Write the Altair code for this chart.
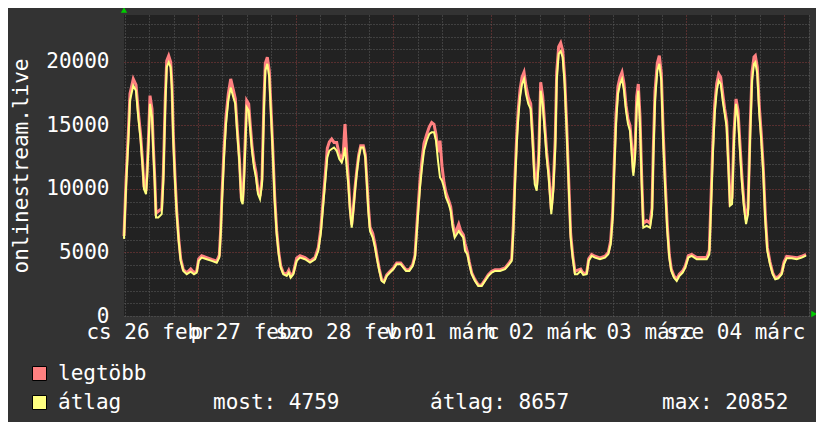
import json
import altair as alt
import pandas as pd

# hours since 2015-02-26 00:00
hours = [
    5.82, 6.31, 6.88, 7.29, 8.10, 8.77, 9.33, 9.92, 10.41, 10.73, 11.23, 11.54, 11.89, 12.21, 12.70,
    13.02, 13.36, 13.68, 14.25, 15.08, 15.48, 15.97, 16.31, 16.80, 17.29, 17.61, 17.93, 18.35, 18.77,
    19.26, 19.75, 20.39, 21.23, 22.21, 23.02, 23.68, 24.17, 24.91, 26.14, 27.37, 28.60, 29.24, 29.58,
    29.90, 30.39, 30.88, 31.45, 32.04, 32.68, 33.17, 33.66, 34.15, 34.64, 34.98, 35.30, 35.62, 35.97,
    36.46, 36.78, 37.27, 37.76, 38.25, 38.74, 39.24, 39.73, 40.22, 40.54, 41.03, 41.52, 41.86, 42.35,
    42.85, 43.34, 43.83, 44.32, 44.96, 45.80, 46.29, 46.78, 47.42, 48.25, 49.06, 50.29, 51.52, 52.75,
    53.56, 54.15, 54.64, 55.21, 55.77, 56.27, 56.85, 57.42, 58.08, 58.72, 59.31, 59.70, 60.12, 60.54,
    60.93, 61.35, 61.77, 62.16, 62.58, 62.99, 63.49, 63.98, 64.62, 65.11, 65.45, 65.85, 66.26, 66.93,
    67.49, 68.06, 68.55, 69.14, 69.70, 70.37, 71.18, 71.99, 72.82, 73.80, 74.45, 75.11, 75.92, 76.75,
    77.32, 77.73, 78.13, 78.55, 79.04, 79.53, 80.19, 80.83, 81.42, 81.99, 82.48, 82.97, 83.46, 83.95,
    84.44, 84.93, 85.60, 86.09, 86.58, 87.07, 87.57, 88.06, 88.55, 89.19, 89.61, 90.17, 90.66, 91.25,
    92.06, 92.87, 93.71, 94.52, 95.33, 96.17, 96.98, 98.21, 99.44, 100.49, 101.08, 101.48, 101.89,
    102.31, 102.70, 103.12, 103.61, 104.10, 104.59, 105.16, 105.75, 106.24, 106.73, 107.22, 107.71,
    108.20, 108.69, 109.18, 109.67, 110.17, 110.80, 111.29, 111.78, 112.13, 112.62, 113.11, 113.60,
    114.09, 114.58, 115.07, 115.56, 116.06, 116.62, 117.19, 118.02, 118.66, 119.50, 119.99, 120.72,
    121.53, 122.76, 123.99, 124.80, 125.39, 125.89, 126.21, 126.70, 127.19, 127.69, 128.18, 128.67,
    129.16, 129.65, 130.14, 130.64, 130.96, 131.38, 131.79, 132.18, 132.60, 133.02, 133.41, 134.25,
    135.06, 135.55, 135.87, 136.29, 136.85, 137.34, 137.84, 138.33, 138.82, 139.31, 139.80, 140.29,
    140.95, 141.62, 142.26, 143.09, 143.73, 144.47, 145.30, 146.53, 147.76, 148.99, 149.63, 150.05,
    150.46, 150.95, 151.45, 151.94, 152.43, 152.92, 153.41, 153.90, 154.39, 154.71, 155.21, 155.70,
    156.19, 156.68, 157.17, 157.66, 158.15, 158.65, 159.14, 159.63, 160.12, 160.61, 160.93, 161.42,
    161.91, 162.40, 162.90, 163.39, 163.88, 164.54, 165.20, 165.84, 166.58, 167.41, 167.98, 168.64,
    169.87, 171.10, 172.33, 173.39,
]

# "átlag" (average)
avg_vals = [
    6070, 10120, 13800, 16960, 18140, 17740, 15640, 13800, 11700, 9990, 9600, 11180, 13800, 16700, 15640,
    13010, 10650, 7750, 7750, 8020, 10650, 16700, 19580, 19980, 19580, 17740, 13800, 10650, 8020,
    5920, 4340, 3550, 3290, 3490, 3290, 3420, 4340, 4600, 4470, 4340, 4200, 4600, 6440,
    9070, 12480, 15120, 16960, 18000, 17220, 16700, 14330, 12220, 9070, 8810, 10650, 13270, 16430,
    16170, 14850, 13010, 11700, 10910, 9600, 9200, 10390, 16430, 19320, 19850, 18790, 16430, 13010,
    9070, 6440, 4870, 3810, 3290, 3150, 3420, 3020, 3290, 4340, 4600, 4470, 4200, 4470,
    5130, 6440, 8280, 10390, 12480, 13010, 13150, 13270, 13010, 12360, 12090, 12480, 13270, 11700,
    10390, 8280, 6960, 8280, 9860, 11180, 12480, 13270, 13270, 12480, 10650, 8280, 6700, 6180,
    5390, 4340, 3550, 2760, 2630, 3150, 3420, 3680, 4080, 4080, 3810, 3550, 3550, 3940,
    4600, 6440, 8280, 10120, 11700, 13010, 13800, 14330, 14460, 14460, 13800, 12220, 10910, 10650,
    10120, 9330, 8810, 8280, 6960, 6180, 6440, 6700, 6440, 6180, 5130, 4870, 4080, 3290,
    2760, 2370, 2370, 2760, 3150, 3420, 3550, 3550, 3680, 4080, 4340, 6700, 10390,
    13540, 15640, 17220, 18270, 18670, 17480, 16700, 16300, 13540, 10390, 9860, 11960,
    17740, 16700, 14590, 12480, 10910, 8020, 9860, 13270, 18530, 20640, 20852, 20370,
    18270, 14590, 10390, 6180, 4600, 3290, 3290, 3550, 3230, 3290, 4340, 4730,
    4600, 4470, 4600, 4870, 5650, 7750, 10910, 15120, 17480, 18270, 18670, 17740,
    16170, 15120, 14590, 12480, 11040, 12480, 16430, 17740, 15120, 10390, 6960, 7100,
    6960, 8020, 12480, 16960, 19320, 19850, 18530, 13540, 9860, 6700, 4600, 3550,
    3020, 2760, 3150, 3420, 3810, 4600, 4730, 4470, 4470, 4470, 4870, 8540,
    12480, 15910, 17740, 18530, 18270, 16960, 15910, 14850, 11180, 8680, 8810, 13800,
    16700, 15640, 13010, 10390, 8540, 7230, 8020, 13800, 18530, 19850, 19980, 19060,
    15910, 13800, 11180, 7490, 5130, 4080, 3290, 2890, 2970, 3290, 4080, 4550,
    4550, 4470, 4600, 4759,
]

# "legtöbb" (maximum)
max_vals = [
    6300, 10600, 14400, 17500, 18670, 18200, 16100, 14200, 12000, 10200, 9850, 11700, 14500, 17350, 16300,
    13400, 11000, 8100, 8250, 8450, 11200, 17300, 20100, 20500, 20000, 18200, 14300, 11000, 8300,
    6100, 4500, 3650, 3400, 3700, 3400, 3550, 4500, 4750, 4600, 4450, 4320, 4800, 6800,
    9600, 13100, 15700, 17500, 18670, 17800, 17100, 14700, 12500, 9300, 9050, 11200, 14000, 16960,
    16700, 15300, 13400, 12100, 11300, 9900, 9450, 10800, 17100, 19900, 20370, 19300, 16900, 13400,
    9400, 6700, 5050, 3950, 3400, 3300, 3600, 3150, 3400, 4550, 4750, 4600, 4320, 4600,
    5400, 6800, 8700, 10900, 13200, 13700, 13940, 13670, 13670, 12700, 12350, 12900, 15120, 12800,
    10800, 8600, 7200, 8500, 10100, 11400, 12700, 13400, 13400, 12700, 10900, 8700, 7000, 6500,
    5650, 4550, 3700, 2850, 2720, 3250, 3520, 3780, 4180, 4180, 3900, 3650, 3650, 4050,
    4800, 6900, 8800, 10700, 12300, 13600, 14300, 14900, 15240, 15100, 14300, 12900, 13800, 11800,
    10500, 9700, 9100, 8600, 7300, 6500, 6800, 7230, 6700, 6400, 5700, 5050, 4250, 3400,
    2850, 2450, 2450, 2850, 3250, 3520, 3650, 3650, 3780, 4200, 4500, 7200, 11000,
    14200, 16300, 17800, 18800, 19190, 18100, 17200, 16700, 14000, 10900, 10300, 12700,
    18400, 17300, 15100, 12900, 11300, 8400, 10300, 14000, 19200, 21200, 21500, 20900,
    18800, 15100, 10800, 6500, 4800, 3500, 3600, 3700, 3350, 3400, 4500, 4850,
    4700, 4580, 4700, 5000, 5900, 8200, 11500, 15800, 18100, 18800, 19190, 18300,
    16600, 15500, 15000, 13100, 11300, 13200, 17300, 18270, 15700, 10900, 7300, 7500,
    7300, 8500, 13200, 17700, 19900, 20500, 19100, 14200, 10400, 7100, 4800, 3700,
    3150, 2900, 3300, 3550, 3950, 4750, 4850, 4600, 4600, 4600, 5200, 9300,
    13300, 16600, 18300, 19060, 18800, 17500, 16300, 15300, 11600, 9000, 9300, 14500,
    17090, 16200, 13500, 10900, 8900, 7600, 8500, 14500, 19200, 20400, 20500, 19600,
    16500, 14300, 11600, 7900, 5400, 4250, 3400, 3000, 3100, 3400, 4250, 4700,
    4650, 4580, 4700, 4850,
]

x_label_texts = ["cs 26 febr", "p 27 febr", "szo 28 febr", "v 01 márc",
                 "h 02 márc", "k 03 márc", "sze 04 márc"]
x_grid_hours = list(range(6, 175, 6))
y_grid_values = list(range(0, 24000, 1000))
legend_names = ["legtöbb", "átlag"]
stats_texts = ["most: 4759", "átlag: 8657", "max: 20852"]
y_title = "onlinestream.live"

RED = "#ff8080"
YELLOW = "#ffff80"
FONT = "DejaVu Sans Mono"
FS = 21

df = pd.DataFrame({"h": hours, "avg": avg_vals, "max": max_vals})

x_scale = alt.Scale(domain=[5.82, 174.12], nice=False, zero=False)
y_scale = alt.Scale(domain=[0, 23700], nice=False, zero=True)

x_label_expr = ("datum.value % 24 === 12 ? " + json.dumps(x_label_texts, ensure_ascii=False)
                + "[floor(datum.value / 24)] : ''")

x_axis = alt.Axis(
    values=x_grid_hours, title=None, labelExpr=x_label_expr, labelOverlap=False,
    labelFlush=False, labelBound=False, ticks=False, domain=False, labelPadding=5,
    labelFont=FONT, labelFontSize=FS, labelColor="#ffffff",
    grid=True, gridDash=[1, 2], gridWidth=1,
    gridColor={"condition": {"test": "datum.value % 24 === 0", "value": "#8c3c3c"}, "value": "#5e5e5e"},
)
y_axis = alt.Axis(
    values=y_grid_values, title=y_title, format="d",
    labelExpr="datum.value % 5000 === 0 ? datum.label : ''", labelOverlap=False,
    labelFlush=False, ticks=False, domain=False, labelPadding=15,
    labelFont=FONT, labelFontSize=FS, labelColor="#ffffff",
    titleFont=FONT, titleFontSize=FS, titleFontWeight="normal", titleColor="#ffffff",
    titleAngle=270, titleX=-97, titleY=150.5, titleAlign="center", titleBaseline="alphabetic",
    grid=True, gridDash=[1, 2], gridWidth=1,
    gridColor={"condition": {"test": "datum.value % 5000 === 0 && datum.value > 0", "value": "#8c3c3c"},
               "value": "#5e5e5e"},
)

base = alt.Chart(df)
max_line = base.mark_line(color=RED, strokeWidth=3, strokeJoin="miter").encode(
    x=alt.X("h:Q", scale=x_scale, axis=x_axis),
    y=alt.Y("max:Q", scale=y_scale, axis=y_axis),
)
avg_line = base.mark_line(color=YELLOW, strokeWidth=2, strokeJoin="miter").encode(
    x=alt.X("h:Q", scale=x_scale, axis=x_axis),
    y=alt.Y("avg:Q", scale=y_scale, axis=y_axis),
)

one = pd.DataFrame({"k": [0]})
arrow_up = alt.Chart(one).mark_point(shape="triangle-up", filled=True, color="#00cc00",
                                     size=40, opacity=1).encode(
    x=alt.value(0), y=alt.value(-5))
arrow_right = alt.Chart(one).mark_point(shape="triangle-right", filled=True, color="#00cc00",
                                        size=40, opacity=1).encode(
    x=alt.value(690), y=alt.value(299))

def swatch(color, ypix):
    return alt.Chart(one).mark_square(size=196, color=color, stroke="#000000",
                                      strokeWidth=1, opacity=1).encode(
        x=alt.value(-84.5), y=alt.value(ypix))

def text_at(txt, xpix, ypix):
    return alt.Chart(pd.DataFrame({"t": [txt]})).mark_text(
        font=FONT, fontSize=FS, color="#ffffff", align="left", baseline="middle").encode(
        text="t:N", x=alt.value(xpix), y=alt.value(ypix))

legend_layers = [
    swatch(RED, 358.5), swatch(YELLOW, 387.5),
    text_at(legend_names[0], -66, 358.5), text_at(legend_names[1], -66, 387.5),
    text_at(stats_texts[0], 89, 387.5), text_at(stats_texts[1], 306, 387.5),
    text_at(stats_texts[2], 538, 387.5),
]

chart = alt.layer(max_line, avg_line, arrow_up, arrow_right, *legend_layers).properties(
    width=685, height=301,
    background="#333333",
    padding={"left": 116, "top": 7, "right": 7, "bottom": 106},
    autosize=alt.AutoSizeParams(type="none"),
).configure_view(fill="#222222", stroke=None)

chart.save("out.html", embed_options={"renderer": "svg", "actions": False})
